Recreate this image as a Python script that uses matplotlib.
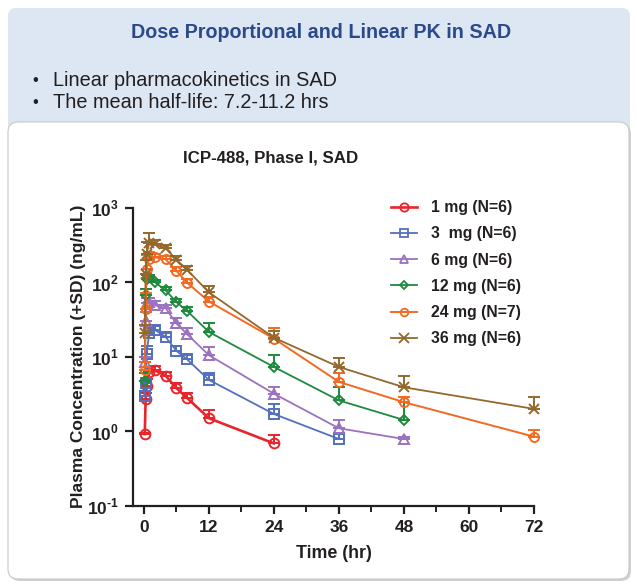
import numpy as np
import matplotlib
matplotlib.use("Agg")
import matplotlib.pyplot as plt
from matplotlib.patches import FancyBboxPatch
from matplotlib.lines import Line2D
from matplotlib.ticker import FixedLocator, FixedFormatter

plt.rcParams['font.family'] = ['Liberation Sans', 'DejaVu Sans']
plt.rcParams['mathtext.fontset'] = 'custom'
plt.rcParams['mathtext.rm'] = 'Liberation Sans:bold'
plt.rcParams['mathtext.bf'] = 'Liberation Sans:bold'

# sampling times (hr)
times = [0.167, 0.333, 0.5, 1, 2, 4, 6, 8, 12, 24, 36, 48, 72]

# mean concentrations (ng/mL) and top of the +SD bar, per dose
mean_1mg = [0.92, 2.7, 4.0, 6.2, 6.6, 5.6, 3.8, 2.8, 1.5, 0.69]
top_1mg = [0.95, 3.3, 5.0, 7.2, 7.5, 6.3, 4.5, 3.3, 1.95, 0.89]
mean_3mg = [3.0, 4.5, 11, 21, 23, 18.5, 12, 9.2, 4.9, 1.71, 0.79]
top_3mg = [3.5, 6.0, 14, 26, 26, 21, 14, 10.5, 6.0, 2.3, 0.95]
mean_6mg = [8.5, 30, 52, 55, 49, 45, 28, 20, 10.5, 3.2, 1.1, 0.79]
top_6mg = [10, 40, 62, 62, 56, 49, 33, 24, 13.5, 3.9, 1.42, 0.85]
mean_12mg = [4.8, 67, 110, 117, 100, 78, 54, 41, 21.5, 7.3, 2.6, 1.42]
top_12mg = [6.0, 80, 125, 125, 108, 85, 60, 47, 28, 10.4, 3.9, 2.5]
mean_24mg = [6.6, 44, 150, 203, 215, 203, 142, 98, 55, 17.5, 4.6, 2.46, 0.85]
top_24mg = [8.5, 72, 230, 250, 240, 225, 160, 110, 63, 24, 6.0, 2.9, 1.04]
mean_36mg = [21, 130, 240, 330, 320, 285, 200, 146, 73, 18, 7.3, 3.9, 2.0]
top_36mg = [27, 200, 340, 454, 370, 310, 225, 165, 89, 22, 9.6, 5.6, 2.87]

labels = ["1 mg (N=6)", "3  mg (N=6)", "6 mg (N=6)",
          "12 mg (N=6)", "24 mg (N=7)", "36 mg (N=6)"]
means = [mean_1mg, mean_3mg, mean_6mg, mean_12mg, mean_24mg, mean_36mg]
tops = [top_1mg, top_3mg, top_6mg, top_12mg, top_24mg, top_36mg]
colors = ['#e8252b', '#5470bd', '#9b72c0', '#1e8a3e', '#f26a21', '#94682c']
markers = ['o', 's', '^', 'D', 'o', 'x']
msizes = [7, 6.5, 7, 5, 6.5, 7.5]
lwidths = [1.9, 1.3, 1.3, 1.3, 1.4, 1.3]

x_ticks = [0, 12, 24, 36, 48, 60, 72]
y_ticks = [0.1, 1, 10, 100, 1000]
y_labels = [r'$10^{\text{-}1}$', r'$10^{0}$', r'$10^{1}$', r'$10^{2}$', r'$10^{3}$']

W, H = 637, 588
fig = plt.figure(figsize=(W / 100, H / 100), dpi=100)

# background panels in pixel coordinates
bg = fig.add_axes([0, 0, 1, 1], zorder=0)
bg.set_xlim(0, W)
bg.set_ylim(H, 0)
bg.axis('off')
bg.add_patch(FancyBboxPatch((8, 8), 622, 140, boxstyle="round,pad=0,rounding_size=8",
                            fc='#dde7f3', ec='none'))
bg.add_patch(FancyBboxPatch((10, 124), 621, 457, boxstyle="round,pad=0,rounding_size=10",
                            fc='#d0d0d0', ec='none'))
bg.add_patch(FancyBboxPatch((8, 122), 621, 457, boxstyle="round,pad=0,rounding_size=10",
                            fc='white', ec='#c8c8c8', lw=0.8))
bg.text(321, 33, "Dose Proportional and Linear PK in SAD", ha='center', va='center',
        fontsize=14.2, fontweight='bold', color='#2b4a8b')
bg.text(35, 80, "\u2022", ha='center', va='center', fontsize=12, color='#231f20')
bg.text(53, 80, "Linear pharmacokinetics in SAD", ha='left', va='center',
        fontsize=14.3, color='#231f20')
bg.text(35, 102, "\u2022", ha='center', va='center', fontsize=12, color='#231f20')
bg.text(53, 102, "The mean half-life: 7.2-11.2 hrs", ha='left', va='center',
        fontsize=14.3, color='#231f20')
bg.text(271, 158, "ICP-488, Phase I, SAD", ha='center', va='center',
        fontsize=12.2, fontweight='bold', color='#231f20')

ax = fig.add_axes([133 / W, 1 - 506 / H, (534 - 133) / W, (506 - 207.5) / H], zorder=1)
ax.patch.set_alpha(0)

handles = []
for lab, m, tp, c, mk, ms, lw in zip(labels, means, tops, colors, markers, msizes, lwidths):
    t = np.array(times[:len(m)])
    m = np.array(m)
    sd = np.array(tp) - m
    eb = ax.errorbar(t, m, yerr=[np.zeros_like(sd), sd], fmt='none', ecolor=c,
                     elinewidth=1.4, capsize=4, capthick=1.4)
    for art in eb.get_children():
        art.set_clip_on(False)
    ax.plot(t, m, color=c, lw=lw, marker=mk, ms=ms, mfc='none', mec=c, mew=1.4,
            clip_on=False)
    handles.append(Line2D([], [], color=c, lw=lw, marker=mk, ms=ms - 1, mfc='none',
                          mec=c, mew=1.3, label=lab))

ax.set_yscale('log')
ax.set_ylim(0.1, 1000)
ax.set_xlim(-2, 72)
ax.yaxis.set_major_locator(FixedLocator(y_ticks))
ax.yaxis.set_major_formatter(FixedFormatter(y_labels))
ax.yaxis.set_minor_locator(FixedLocator([]))
ax.xaxis.set_major_locator(FixedLocator(x_ticks))
ax.xaxis.set_minor_locator(FixedLocator([6, 18, 30, 42, 54, 66]))
for s in ['top', 'right']:
    ax.spines[s].set_visible(False)
for s in ['left', 'bottom']:
    ax.spines[s].set_linewidth(1.6)
    ax.spines[s].set_color('#231f20')
ax.tick_params(which='major', length=6, width=1.6, color='#231f20', labelsize=12.5,
               labelcolor='#231f20', pad=4)
ax.tick_params(which='minor', length=4, width=1.4, color='#231f20')
for lbl in ax.get_xticklabels():
    lbl.set_fontweight('bold')

ax.set_xlabel("Time (hr)", fontsize=12.8, fontweight='bold', color='#231f20', labelpad=7)
ax.set_ylabel("Plasma Concentration (+SD) (ng/mL)", fontsize=12.5, fontweight='bold',
              color='#231f20', labelpad=1)

fig.legend(handles=handles, loc='upper left', bbox_to_anchor=(391 / W, 1 - 200 / H),
           frameon=False, prop={'weight': 'bold', 'size': 11.3}, handlelength=1.65,
           handletextpad=0.9, labelspacing=0.72, borderpad=0, borderaxespad=0,
           labelcolor='#231f20')

fig.savefig("out.png", dpi=100)
